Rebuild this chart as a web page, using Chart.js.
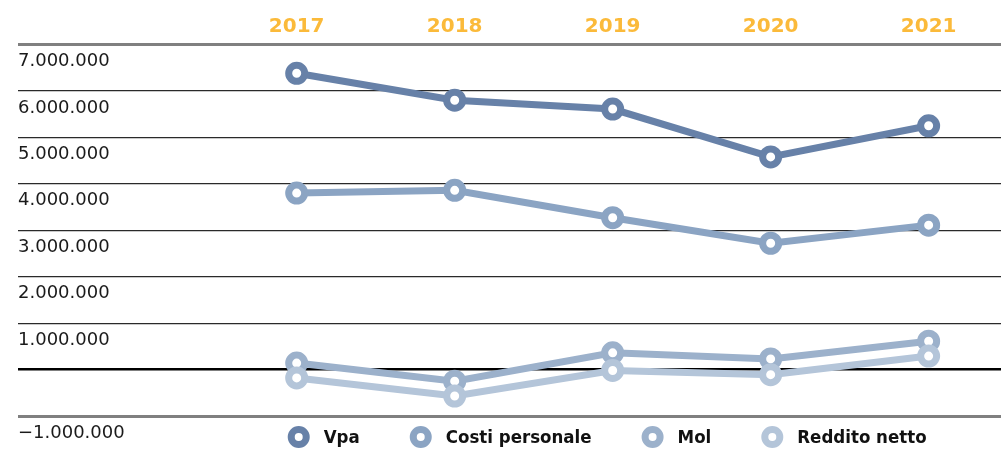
<!DOCTYPE html>
<html>
<head>
<meta charset="utf-8">
<script src="https://cdn.jsdelivr.net/npm/chart.js@4/dist/chart.umd.min.js"></script>
<style>
  html, body { margin: 0; padding: 0; background: #fff; overflow: hidden; }
  #wrap { width: 1001px; height: 449px; position: relative; }
  canvas { display: block; }
</style>
</head>
<body>
<div id="wrap"><canvas id="trendChart"></canvas></div>
<script>
// Dati
const categories = ['2017', '2018', '2019', '2020', '2021'];
const vpa = [6380000, 5800000, 5610000, 4580000, 5250000];
const costiPersonale = [3800000, 3860000, 3270000, 2720000, 3110000];
const mol = [140000, -250000, 360000, 230000, 610000];
const redditoNetto = [-180000, -570000, -20000, -110000, 290000];

const seriesNames = ['Vpa', 'Costi personale', 'Mol', 'Reddito netto'];
const seriesColors = ['#6781a8', '#8ba4c3', '#9cb1cb', '#b4c5d9'];

// etichette asse y, da -1.000.000 a 7.000.000
const yTickLabels = ['\u22121.000.000', '', '1.000.000', '2.000.000', '3.000.000',
                     '4.000.000', '5.000.000', '6.000.000', '7.000.000'];

const toPoints = arr => arr.map((v, i) => ({ x: i, y: v }));

function makeSet(idx, values, order) {
    return {
        label: seriesNames[idx],
        data: toPoints(values),
        borderColor: seriesColors[idx],
        pointBorderColor: seriesColors[idx],
        pointBackgroundColor: '#ffffff',
        borderWidth: 7,
        pointRadius: 8,
        pointHoverRadius: 8,
        pointBorderWidth: 7,
        tension: 0,
        clip: false,
        order: order
    };
}

// legenda disegnata a mano sotto il grafico
const bottomLegend = {
    id: 'bottomLegend',
    afterDraw(chart) {
        const ctx = chart.ctx;
        const xs = chart.scales.x;
        const centerX = (xs.getPixelForValue(0) + xs.getPixelForValue(categories.length - 1)) / 2;
        const y = 437;
        const textGap = 25;
        const itemGap = 61;
        ctx.save();
        ctx.font = 'bold 18.5px "DejaVu Sans Condensed", "DejaVu Sans", sans-serif';
        ctx.textBaseline = 'middle';
        ctx.textAlign = 'left';
        const widths = seriesNames.map(n => ctx.measureText(n).width);
        let total = 0;
        widths.forEach((w, i) => { total += textGap + w + (i < widths.length - 1 ? itemGap : 0); });
        let cx = centerX - total / 2;
        seriesNames.forEach((name, i) => {
            ctx.beginPath();
            ctx.arc(cx, y, 7.5, 0, Math.PI * 2);
            ctx.fillStyle = '#ffffff';
            ctx.fill();
            ctx.lineWidth = 7;
            ctx.strokeStyle = seriesColors[i];
            ctx.stroke();
            ctx.fillStyle = '#111111';
            ctx.fillText(name, cx + textGap, y + 1);
            cx += textGap + widths[i] + itemGap;
        });
        ctx.restore();
    }
};

const config = {
    type: 'line',
    data: {
        datasets: [
            makeSet(0, vpa, 3),
            makeSet(1, costiPersonale, 2),
            makeSet(2, mol, 1),
            makeSet(3, redditoNetto, 0)
        ]
    },
    options: {
        responsive: true,
        maintainAspectRatio: false,
        animation: false,
        layout: { autoPadding: false, padding: { left: 18, right: 0, top: 9.5, bottom: 33 } },
        plugins: {
            legend: { display: false },
            tooltip: { enabled: false }
        },
        scales: {
            x: {
                type: 'linear',
                position: 'top',
                min: -1.764,
                max: 4.458,
                afterBuildTicks: scale => {
                    scale.ticks = categories.map((c, i) => ({ value: i }));
                },
                ticks: {
                    callback: v => categories[v],
                    color: '#fbba3a',
                    padding: 5.5,
                    maxRotation: 0,
                    font: { family: '"DejaVu Sans", sans-serif', size: 20, weight: 'bold' }
                },
                grid: { display: false, drawTicks: false },
                border: { display: false }
            },
            y: {
                min: -1000000,
                max: 7000000,
                ticks: {
                    stepSize: 1000000,
                    mirror: true,
                    padding: 0,
                    labelOffset: 17,
                    color: '#1a1a1a',
                    font: { family: '"DejaVu Sans", sans-serif', size: 18 },
                    callback: (v, i) => yTickLabels[i]
                },
                grid: {
                    drawTicks: false,
                    color: c => {
                        const v = c.tick && c.tick.value;
                        if (v === 0) return '#000000';
                        if (v === 7000000 || v === -1000000) return '#808080';
                        return '#2a2a2a';
                    },
                    lineWidth: c => {
                        const v = c.tick && c.tick.value;
                        if (v === 0) return 2.5;
                        if (v === 7000000 || v === -1000000) return 3;
                        return 1.2;
                    }
                },
                border: { display: false }
            }
        }
    },
    plugins: [bottomLegend]
};

const ctx = document.getElementById('trendChart').getContext('2d');
new Chart(ctx, config);
</script>
</body>
</html>
